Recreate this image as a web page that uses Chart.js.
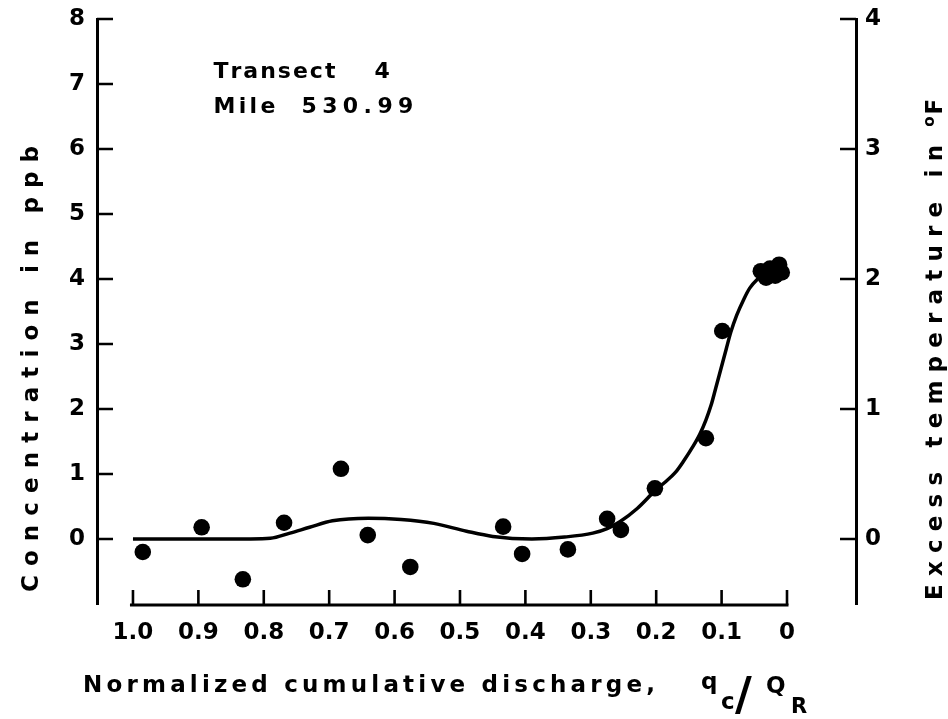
<!DOCTYPE html>
<html>
<head>
<meta charset="utf-8">
<script src="https://cdn.jsdelivr.net/npm/chart.js@4/dist/chart.umd.min.js"></script>
<style>
  html, body { margin: 0; padding: 0; background: #ffffff; }
  canvas { display: block; }
</style>
</head>
<body>
<canvas id="chart" width="948" height="719"></canvas>
<script>
// Sampled dye concentrations (ppb) against normalized cumulative discharge q_c/Q_R
const sampleQ    = [0.985, 0.895, 0.832, 0.769, 0.682, 0.641, 0.576, 0.434, 0.405, 0.335, 0.275, 0.254, 0.202, 0.124, 0.099, 0.040, 0.032, 0.026, 0.018, 0.012, 0.008];
const sampleConc = [-0.20, 0.18, -0.62, 0.25, 1.08, 0.06, -0.43, 0.19, -0.23, -0.16, 0.31, 0.14, 0.78, 1.55, 3.20, 4.12, 4.02, 4.16, 4.05, 4.22, 4.10];

// Smoothed concentration profile through the samples
const fitQ    = [1.000, 0.900, 0.820, 0.790, 0.760, 0.730, 0.695, 0.640, 0.590, 0.540, 0.490, 0.450, 0.390, 0.340, 0.297, 0.275, 0.255, 0.229, 0.202, 0.187, 0.171, 0.158, 0.144, 0.133, 0.124, 0.116, 0.109, 0.101, 0.093, 0.086, 0.077, 0.066, 0.057, 0.046, 0.034, 0.018, 0.000];
const fitConc = [0.00, 0.00, 0.00, 0.01, 0.09, 0.18, 0.28, 0.32, 0.30, 0.24, 0.12, 0.04, 0.00, 0.03, 0.09, 0.16, 0.27, 0.47, 0.74, 0.87, 1.02, 1.20, 1.42, 1.62, 1.83, 2.06, 2.32, 2.62, 2.92, 3.18, 3.44, 3.69, 3.86, 3.99, 4.08, 4.13, 4.15];

// Axis ticks
const xTickValues = [1.0, 0.9, 0.8, 0.7, 0.6, 0.5, 0.4, 0.3, 0.2, 0.1, 0];
const xTickLabels = ['1.0', '0.9', '0.8', '0.7', '0.6', '0.5', '0.4', '0.3', '0.2', '0.1', '0'];
const concTicks   = [0, 1, 2, 3, 4, 5, 6, 7, 8];
const tempTicks   = [0, 1, 2, 3, 4];

const FONT = '"DejaVu Sans", "Liberation Sans", sans-serif';
const INK = '#000000';

// Glyph-by-glyph drawing with extra tracking
function naturalWidth(ctx, text) {
  let w = 0;
  for (const ch of text) w += ctx.measureText(ch).width;
  return w;
}
function trackFor(ctx, text, target) {
  const n = [...text].length;
  return n > 1 ? (target - naturalWidth(ctx, text)) / (n - 1) : 0;
}
function spacedText(ctx, text, x, y, spacing) {
  let cx = x;
  for (const ch of text) {
    ctx.fillText(ch, cx, y);
    cx += ctx.measureText(ch).width + spacing;
  }
  return cx - x;
}

const frame = {
  id: 'frame',
  afterDraw(chart) {
    const { ctx, chartArea: a, scales } = chart;
    const x = scales.x, y = scales.y, y2 = scales.y2;
    ctx.save();
    ctx.strokeStyle = INK;
    ctx.fillStyle = INK;
    ctx.lineCap = 'butt';

    // Discharge axis: baseline spans only 1.0 .. 0, ticks point up
    const xl = x.getPixelForValue(xTickValues[0]);
    const xr = x.getPixelForValue(xTickValues[xTickValues.length - 1]);
    const by = a.bottom + 1;
    ctx.lineWidth = 3;
    ctx.beginPath();
    ctx.moveTo(xl - 3, by);
    ctx.lineTo(xr + 1.5, by);
    ctx.stroke();
    ctx.lineWidth = 2.6;
    ctx.beginPath();
    for (const t of x.ticks) {
      const px = x.getPixelForValue(t.value);
      ctx.moveTo(px, by);
      ctx.lineTo(px, by - 15);
    }
    // Concentration ticks point right
    for (const t of y.ticks) {
      const py = y.getPixelForValue(t.value);
      ctx.moveTo(a.left, py);
      ctx.lineTo(a.left + 16, py);
    }
    // Temperature ticks point left
    for (const t of y2.ticks) {
      const py = y2.getPixelForValue(t.value);
      ctx.moveTo(a.right, py);
      ctx.lineTo(a.right - 16, py);
    }
    ctx.stroke();

    ctx.textBaseline = 'alphabetic';
    ctx.textAlign = 'left';

    // Left title, reading upward
    {
      const txt = 'Concentration in ppb';
      ctx.font = 'bold 23px ' + FONT;
      const sp = trackFor(ctx, txt, 446);
      ctx.save();
      ctx.translate(38, 592);
      ctx.rotate(-Math.PI / 2);
      spacedText(ctx, txt, 0, 0, sp);
      ctx.restore();
    }

    // Right title, reading upward, with raised o before F
    {
      const main = 'Excess temperature in';
      ctx.font = 'bold 23px ' + FONT;
      const sp = trackFor(ctx, main, 455);
      ctx.save();
      ctx.translate(942, 600);
      ctx.rotate(-Math.PI / 2);
      let cx = spacedText(ctx, main, 0, 0, sp) + 10;
      ctx.font = 'bold 15px ' + FONT;
      ctx.fillText('o', cx, -8);
      cx += ctx.measureText('o').width + 2;
      ctx.font = 'bold 23px ' + FONT;
      ctx.fillText('F', cx, 0);
      ctx.restore();
    }

    // Bottom title: Normalized cumulative discharge, q_c / Q_R
    {
      const base = 692;
      ctx.font = 'bold 23px ' + FONT;
      const txt = 'Normalized cumulative discharge,';
      const sp = trackFor(ctx, txt, 572);
      spacedText(ctx, txt, 83, base, sp);
      ctx.fillText('q', 701, base - 3);
      ctx.fillText('c', 721, base + 17);
      ctx.font = 'bold 46px ' + FONT;
      ctx.fillText('/', 735, base + 18);
      ctx.font = 'bold 23px ' + FONT;
      ctx.fillText('Q', 766, base + 1);
      ctx.font = 'bold 21px ' + FONT;
      ctx.fillText('R', 791, base + 21);
    }

    // Site label
    ctx.font = 'bold 22px ' + FONT;
    const lx = x.getPixelForValue(0.877);
    const row1 = y.getPixelForValue(7.09);
    const row2 = y.getPixelForValue(6.55);
    spacedText(ctx, 'Transect', lx, row1, trackFor(ctx, 'Transect', 122));
    ctx.fillText('4', lx + 161, row1);
    spacedText(ctx, 'Mile', lx, row2, trackFor(ctx, 'Mile', 62));
    spacedText(ctx, '530.99', lx + 88, row2, trackFor(ctx, '530.99', 112));

    ctx.restore();
  }
};

const tickFont = { family: FONT, size: 23, weight: 'bold' };

new Chart(document.getElementById('chart'), {
  type: 'scatter',
  data: {
    datasets: [
      {
        data: fitQ.map((q, i) => ({ x: q, y: fitConc[i] })),
        showLine: true,
        borderColor: INK,
        borderWidth: 3.5,
        pointRadius: 0,
        cubicInterpolationMode: 'monotone',
        fill: false,
        yAxisID: 'y',
        order: 2
      },
      {
        data: sampleQ.map((q, i) => ({ x: q, y: sampleConc[i] })),
        backgroundColor: INK,
        borderColor: INK,
        borderWidth: 0,
        pointRadius: 8.3,
        pointHoverRadius: 8.3,
        yAxisID: 'y',
        order: 1
      }
    ]
  },
  options: {
    responsive: false,
    animation: false,
    events: [],
    layout: { padding: { top: 19, left: 0, right: 0, bottom: 0 } },
    plugins: { legend: { display: false }, tooltip: { enabled: false } },
    scales: {
      x: {
        type: 'linear',
        reverse: true,
        min: -0.1055,
        max: 1.055,
        afterBuildTicks: s => { s.ticks = xTickValues.map(v => ({ value: v })); },
        afterFit: s => { s.height = 115; s.paddingLeft = 0; s.paddingRight = 0; },
        grid: { display: false, drawTicks: false },
        border: { display: false },
        ticks: {
          autoSkip: false, maxRotation: 0, padding: 15, color: INK, font: tickFont,
          callback: v => xTickLabels[xTickValues.indexOf(v)]
        }
      },
      y: {
        type: 'linear',
        position: 'left',
        min: -1,
        max: 8,
        afterBuildTicks: s => { s.ticks = concTicks.map(v => ({ value: v })); },
        afterFit: s => { s.width = 97; s.paddingTop = 0; s.paddingBottom = 0; },
        grid: { display: false, drawTicks: false },
        border: { display: true, color: INK, width: 3 },
        ticks: { padding: 12, color: INK, font: tickFont, callback: v => String(v) }
      },
      y2: {
        type: 'linear',
        position: 'right',
        min: -0.5,
        max: 4,
        afterBuildTicks: s => { s.ticks = tempTicks.map(v => ({ value: v })); },
        afterFit: s => { s.width = 92; s.paddingTop = 0; s.paddingBottom = 0; },
        grid: { display: false, drawTicks: false },
        border: { display: true, color: INK, width: 3 },
        ticks: { padding: 9, color: INK, font: tickFont, callback: v => String(v) }
      }
    }
  },
  plugins: [frame]
});
</script>
</body>
</html>
